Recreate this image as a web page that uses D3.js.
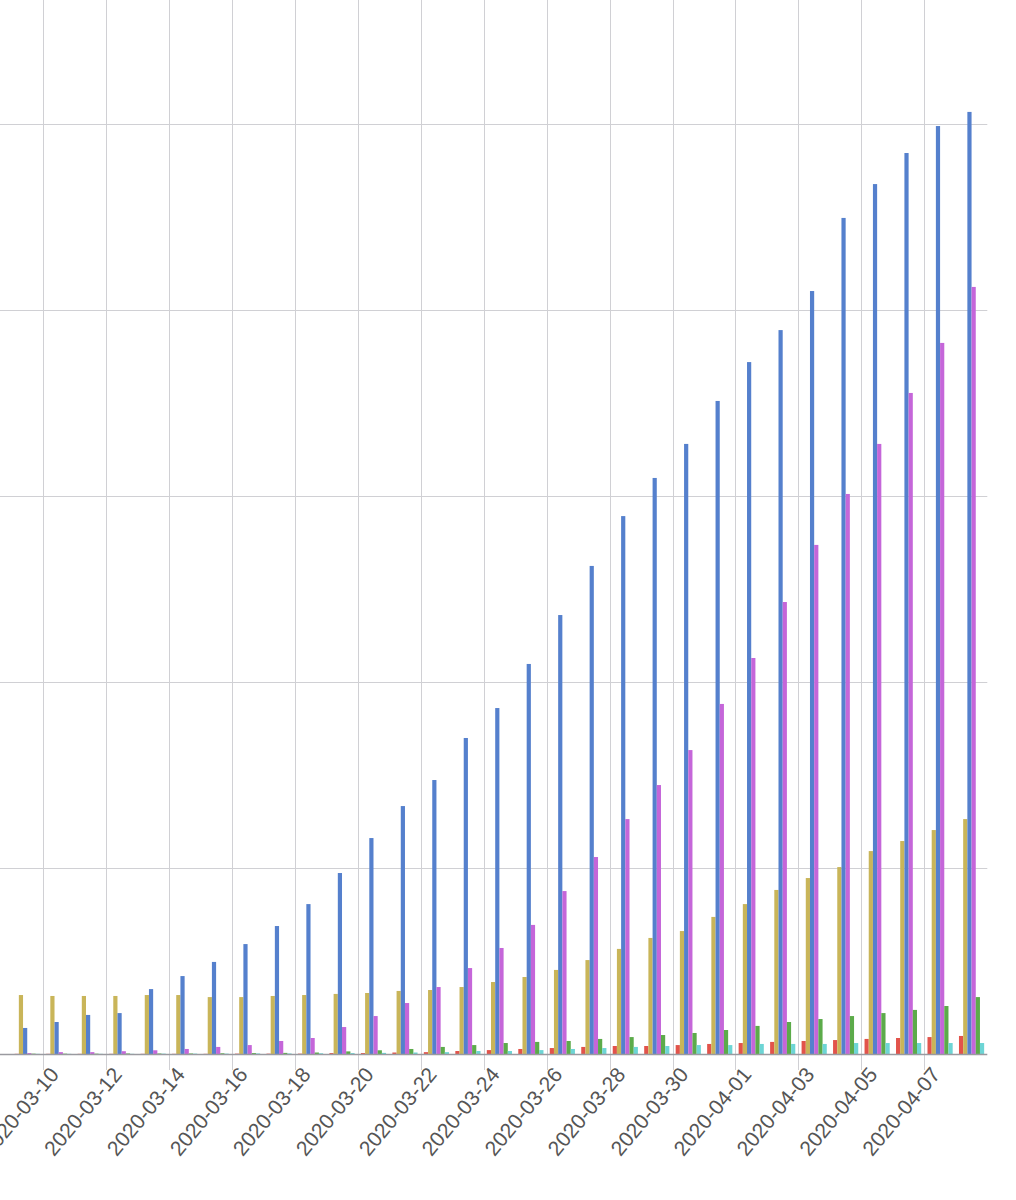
<!DOCTYPE html>
<html>
<head>
<meta charset="utf-8">
<script src="https://cdn.jsdelivr.net/npm/d3@7/dist/d3.min.js"></script>
<style>
  html, body { margin: 0; padding: 0; background: #fff; }
  svg { display: block; }
</style>
</head>
<body>
<svg id="chart" width="1016" height="1200"></svg>
<script>
// ---- data ----
const dates = [
  "2020-03-09","2020-03-10","2020-03-11","2020-03-12","2020-03-13","2020-03-14","2020-03-15",
  "2020-03-16","2020-03-17","2020-03-18","2020-03-19","2020-03-20","2020-03-21","2020-03-22",
  "2020-03-23","2020-03-24","2020-03-25","2020-03-26","2020-03-27","2020-03-28","2020-03-29",
  "2020-03-30","2020-03-31","2020-04-01","2020-04-02","2020-04-03","2020-04-04","2020-04-05",
  "2020-04-06","2020-04-07","2020-04-08"
];
const seriesNames = ["A", "B", "C", "D", "E", "F"];
const seriesColors = ["#e2534b", "#c9b559", "#5580cd", "#c566d9", "#5cab4a", "#6dd5d5"];

const seriesA = [1,1,1,1,1,1,1,2,2,2,5,5,8,10,16,21,27,32,38,43,43,48,54,59,65,70,75,81,86,91,97];
const seriesB = [317,312,312,312,317,317,306,306,312,317,323,328,339,344,360,387,414,452,505,565,624,661,737,806,882,946,1005,1091,1145,1204,1263];
const seriesC = [140,172,210,220,349,419,495,591,688,806,973,1161,1333,1473,1699,1860,2097,2360,2624,2892,3097,3280,3511,3720,3892,4102,4495,4677,4844,4989,5065];
const seriesD = [5,10,10,15,20,27,38,48,70,86,145,204,274,360,462,570,694,876,1059,1263,1446,1634,1882,2129,2430,2737,3011,3280,3554,3823,4124];
const seriesE = [2,2,2,3,3,3,4,5,6,8,14,20,27,38,48,59,65,70,81,91,102,113,129,151,172,188,204,220,237,258,306];
const seriesF = [1,1,1,1,2,2,2,3,3,4,5,6,8,10,16,16,21,27,32,38,43,48,48,54,54,54,59,59,59,59,59];

const tickDates = dates.filter((d, i) => i % 2 === 1);
const yTicks = [0, 1000, 2000, 3000, 4000, 5000];

// ---- chart ----
const svg = d3.select("#chart");
const allSeries = [seriesA, seriesB, seriesC, seriesD, seriesE, seriesF];

const x0 = d3.scaleBand().domain(dates).range([11.5, 987.3]).paddingInner(0.2).paddingOuter(0.1);
const x1 = d3.scaleBand().domain(seriesNames).range([0, x0.bandwidth()]).padding(0);
const y = d3.scaleLinear().domain([0, 5000]).range([1054, 124]);
const color = d3.scaleOrdinal().domain(seriesNames).range(seriesColors);
const slotLeft = d => x0(d) - x0.step() * x0.paddingInner() / 2;

// horizontal grid
svg.append("g").selectAll("line").data(yTicks.slice(1)).join("line")
  .attr("x1", 0).attr("x2", 987.3)
  .attr("y1", d => y(d) + 0.5).attr("y2", d => y(d) + 0.5)
  .attr("stroke", "#d0d0d4").attr("stroke-width", 1);

// vertical grid + tick extension
svg.append("g").selectAll("line").data(tickDates).join("line")
  .attr("x1", d => Math.round(slotLeft(d)) + 0.5).attr("x2", d => Math.round(slotLeft(d)) + 0.5)
  .attr("y1", 0).attr("y2", 1070)
  .attr("stroke", "#d0d0d4").attr("stroke-width", 1);

// bars
const rows = dates.map((d, i) => ({ date: d, values: seriesNames.map((s, k) => ({ key: s, value: allSeries[k][i] })) }));
svg.append("g").selectAll("g").data(rows).join("g")
  .attr("transform", d => `translate(${x0(d.date)},0)`)
  .selectAll("rect").data(d => d.values).join("rect")
  .attr("x", d => x1(d.key))
  .attr("width", x1.bandwidth())
  .attr("y", d => y(d.value))
  .attr("height", d => y(0) - y(d.value))
  .attr("fill", d => color(d.key));

// baseline
svg.append("line")
  .attr("x1", 0).attr("x2", 987.3)
  .attr("y1", y(0) + 0.5).attr("y2", y(0) + 0.5)
  .attr("stroke", "#9a9aa0").attr("stroke-width", 1.5);

// x labels
svg.append("g").selectAll("text").data(tickDates).join("text")
  .attr("transform", d => `translate(${slotLeft(d) + 17},${1075}) rotate(-50)`)
  .attr("text-anchor", "end")
  .attr("font-family", "Helvetica, Arial, 'Liberation Sans', sans-serif")
  .attr("font-size", 21)
  .attr("fill", "#555")
  .text(d => d);
</script>
</body>
</html>
